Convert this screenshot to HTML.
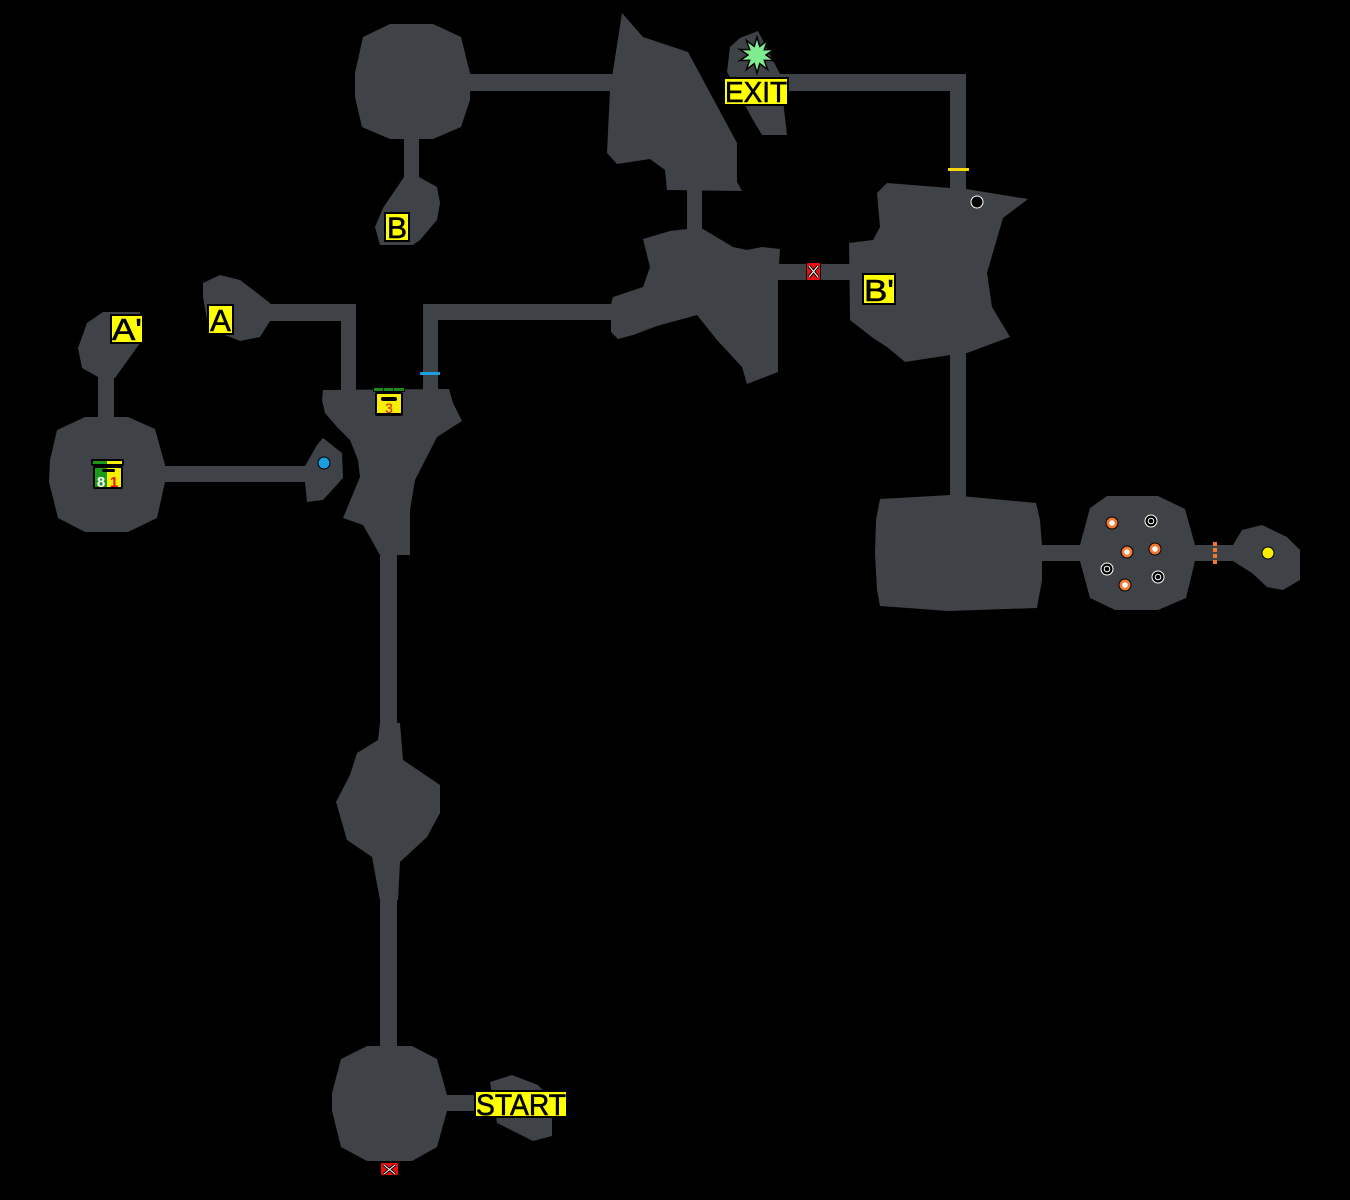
<!DOCTYPE html>
<html><head><meta charset="utf-8"><style>
html,body{margin:0;padding:0;background:#000;}
svg{display:block;}
text{font-family:"Liberation Sans",sans-serif;}
</style></head><body>
<svg width="1350" height="1200" viewBox="0 0 1350 1200" xmlns="http://www.w3.org/2000/svg">
<rect width="1350" height="1200" fill="#000"/>
<g fill="#3f4247">
<!-- top-left octagon + B -->
<polygon points="363,37 390,24 433,24 461,37 470,73 470,100 461,127 433,139 390,139 362,127 355,97 355,73"/>
<rect x="465" y="74" width="150" height="17"/>
<rect x="404" y="135" width="15" height="45"/>
<polygon points="404,177 419,177 437,187 440,203 437,220 420,240 413,245 380,245 375,227 383,208"/>
<!-- big top middle room -->
<polygon points="622,13 643,37 688,52 737,143 737,182 742,191 667,190 665,170 650,159 617,164 607,153 610,90"/>
<rect x="687" y="186" width="15" height="48"/>
<!-- central hub -->
<polygon points="643,239 670,231 687,229 703,229 733,247 747,250 762,247 780,249 779,265 778,280 778,372 747,384 742,367 717,340 697,315 657,326 633,335 618,339 611,332 611,320 611,304 613,297 643,287 650,267"/>
<rect x="775" y="264" width="78" height="16"/>
<!-- B' room -->
<polygon points="887,183 950,188 966,189 1028,199 1003,218 987,273 992,307 1010,337 967,353 950,355 905,362 887,347 873,338 850,320 849,243 873,240 880,227 877,193"/>
<rect x="950" y="74" width="16" height="120"/>
<rect x="780" y="74" width="186" height="17"/>
<!-- EXIT room -->
<polygon points="740,38 758,31 780,74 787,135 762,135 753,120 727,72 730,47"/>
<rect x="950" y="350" width="16" height="150"/>
<!-- right side rooms -->
<polygon points="880,499 950,495 1036,503 1040,520 1042,545 1042,580 1037,608 948,611 880,606 877,590 875,553 876,520"/>
<rect x="1040" y="545" width="42" height="16"/>
<polygon points="1090,508 1107,496 1158,496 1185,509 1195,545 1195,561 1186,598 1158,610 1115,610 1090,598 1080,561 1080,545"/>
<rect x="1193" y="545" width="42" height="16"/>
<polygon points="1242,530 1262,525 1287,537 1300,550 1300,580 1283,590 1267,587 1252,573 1233,561 1233,545"/>
<!-- left hub -->
<polygon points="323,390 449,389 453,403 462,421 437,437 415,480 410,510 410,555 380,555 363,525 343,518 360,477 358,460 350,440 337,427 325,413 322,400"/>
<rect x="341" y="304" width="15" height="90"/>
<rect x="423" y="304" width="15" height="90"/>
<rect x="265" y="304" width="91" height="17"/>
<rect x="423" y="304" width="192" height="16"/>
<!-- A room -->
<polygon points="203,283 220,275 240,280 270,303 270,321 260,337 240,341 225,335 207,320 203,297"/>
<!-- A' room -->
<polygon points="103,312 140,312 143,327 140,343 115,378 98,377 82,368 78,348 87,323"/>
<rect x="98" y="370" width="16" height="52"/>
<!-- left octagon -->
<polygon points="85,417 128,417 155,429 165,465 165,482 157,518 128,532 85,532 58,518 49,482 50,460 57,430"/>
<rect x="160" y="466" width="150" height="16"/>
<polygon points="323,438 342,453 343,478 323,500 307,502 305,482 305,466 317,445"/>
<!-- south path -->
<rect x="380" y="550" width="17" height="180"/>
<polygon points="380,723 400,723 403,760 440,785 440,813 427,837 400,862 398,900 380,900 372,857 347,840 336,802 350,775 357,753 378,740"/>
<rect x="380" y="895" width="17" height="155"/>
<polygon points="367,1046 412,1046 437,1059 447,1095 447,1111 437,1147 412,1161 367,1161 341,1147 332,1111 332,1093 341,1059"/>
<rect x="445" y="1095" width="35" height="16"/>
<polygon points="490,1082 512,1075 538,1085 552,1100 552,1136 533,1141 517,1133 497,1123"/>
</g>

<!-- markers -->
<rect x="948" y="168" width="21" height="3" fill="#f8d800"/>
<circle cx="977" cy="202" r="6" fill="#000" stroke="#fff" stroke-width="1"/>
<rect x="420" y="372" width="20" height="3" fill="#1a9ee0"/>
<circle cx="324" cy="463" r="6" fill="#1a9ee0" stroke="#000" stroke-width="1"/>
<circle cx="1268" cy="553" r="6" fill="#f8f000" stroke="#000" stroke-width="1"/>
<!-- orange dashed door -->
<g fill="#f07830">
<rect x="1213" y="542" width="4" height="4"/>
<rect x="1213" y="548" width="4" height="4"/>
<rect x="1213" y="554" width="4" height="4"/>
<rect x="1213" y="560" width="4" height="4"/>
</g>
<!-- orange rings -->
<g stroke="#000" stroke-width="1">
<circle cx="1112" cy="523" r="6" fill="#f07830"/>
<circle cx="1127" cy="552" r="6" fill="#f07830"/>
<circle cx="1155" cy="549" r="6" fill="#f07830"/>
<circle cx="1125" cy="585" r="6" fill="#f07830"/>
</g>
<g fill="#fff">
<circle cx="1112" cy="523" r="2.8"/>
<circle cx="1127" cy="552" r="2.8"/>
<circle cx="1155" cy="549" r="2.8"/>
<circle cx="1125" cy="585" r="2.8"/>
</g>
<!-- black/white rings -->
<g>
<circle cx="1151" cy="521" r="6" fill="#000" stroke="#fff" stroke-width="1"/>
<circle cx="1151" cy="521" r="2.8" fill="none" stroke="#fff" stroke-width="1"/>
<circle cx="1107" cy="569" r="6" fill="#000" stroke="#fff" stroke-width="1"/>
<circle cx="1107" cy="569" r="2.8" fill="none" stroke="#fff" stroke-width="1"/>
<circle cx="1158" cy="577" r="6" fill="#000" stroke="#fff" stroke-width="1"/>
<circle cx="1158" cy="577" r="2.8" fill="none" stroke="#fff" stroke-width="1"/>
</g>

<!-- X markers -->
<g>
<rect x="806.5" y="262.5" width="14" height="18" rx="1.5" fill="#e81010" stroke="#000" stroke-width="1"/>
<path d="M809,266 L818,277 M818,266 L809,277" stroke="#000" stroke-width="3"/>
<path d="M809,266 L818,277 M818,266 L809,277" stroke="#fff" stroke-width="1"/>
<rect x="380.5" y="1162.5" width="18" height="13" rx="1.5" fill="#e81010" stroke="#000" stroke-width="1"/>
<path d="M384,1165 L395,1174 M395,1165 L384,1174" stroke="#000" stroke-width="3"/>
<path d="M384,1165 L395,1174 M395,1165 L384,1174" stroke="#fff" stroke-width="1"/>
</g>

<!-- star -->
<polygon points="757,37 759.8,46.4 767.6,40.4 764.3,49.7 774.1,49.4 766,55 774.1,60.6 764.3,60.3 767.6,69.6 759.8,63.6 757,73 754.2,63.6 746.4,69.6 749.7,60.3 739.9,60.6 748,55 739.9,49.4 749.7,49.7 746.4,40.4 754.2,46.4" fill="#80ec90" stroke="#000" stroke-width="1.5"/>

<!-- chest 81 -->
<g>
<rect x="91" y="459" width="33" height="7" rx="2" fill="#000"/>
<rect x="93" y="461" width="14" height="3" fill="#1a9a1a"/>
<rect x="107" y="461" width="15" height="3" fill="#f8f000"/>
<rect x="93" y="466" width="30" height="23" rx="2" fill="#000"/>
<rect x="95" y="468" width="12" height="19" fill="#1a9a1a"/>
<rect x="107" y="468" width="14" height="19" fill="#f8f000"/>
<rect x="102" y="469" width="13" height="3" rx="1.5" fill="#000"/>
<text x="101" y="487" font-size="15" font-weight="bold" fill="#fff" text-anchor="middle">8</text>
<text x="114" y="487" font-size="15" font-weight="bold" fill="#e81010" text-anchor="middle">1</text>
</g>
<!-- chest 3 -->
<g>
<rect x="373" y="387" width="32" height="5" rx="1" fill="#000"/>
<rect x="374" y="388" width="9" height="3" fill="#1a8a1a"/>
<rect x="384" y="388" width="9" height="3" fill="#1a8a1a"/>
<rect x="394" y="388" width="10" height="3" fill="#1a8a1a"/>
<rect x="375" y="392" width="28" height="24" rx="2" fill="#000"/>
<rect x="377" y="394" width="24" height="19" fill="#f8f000"/>
<rect x="381" y="397" width="16" height="4" rx="2" fill="#000"/>
<text x="389" y="413" font-size="14" fill="#e81010" text-anchor="middle">3</text>
</g>

<!-- labels -->
<g stroke="#000" stroke-width="2" fill="#ffff00">
<rect x="385" y="213" width="24" height="28"/>
<rect x="208" y="305" width="25" height="29"/>
<rect x="111" y="315" width="32" height="28"/>
<rect x="863" y="274" width="32" height="30"/>
<rect x="724" y="78" width="64" height="27"/>
<rect x="475" y="1091" width="92" height="26"/>
</g>
<g fill="#000" stroke="#000" stroke-width="0.6">
<text x="397" y="238" font-size="30" text-anchor="middle">B</text>
<text x="220.5" y="331" font-size="31" text-anchor="middle">A</text>
<text x="112" y="340" font-size="31" textLength="30" lengthAdjust="spacingAndGlyphs">A'</text>
<text x="864" y="301" font-size="31" textLength="30" lengthAdjust="spacingAndGlyphs">B'</text>
<text x="725" y="102" font-size="29" textLength="62" lengthAdjust="spacingAndGlyphs">EXIT</text>
<text x="476" y="1115" font-size="30" textLength="90" lengthAdjust="spacingAndGlyphs">START</text>
</g>
</svg>
</body></html>
